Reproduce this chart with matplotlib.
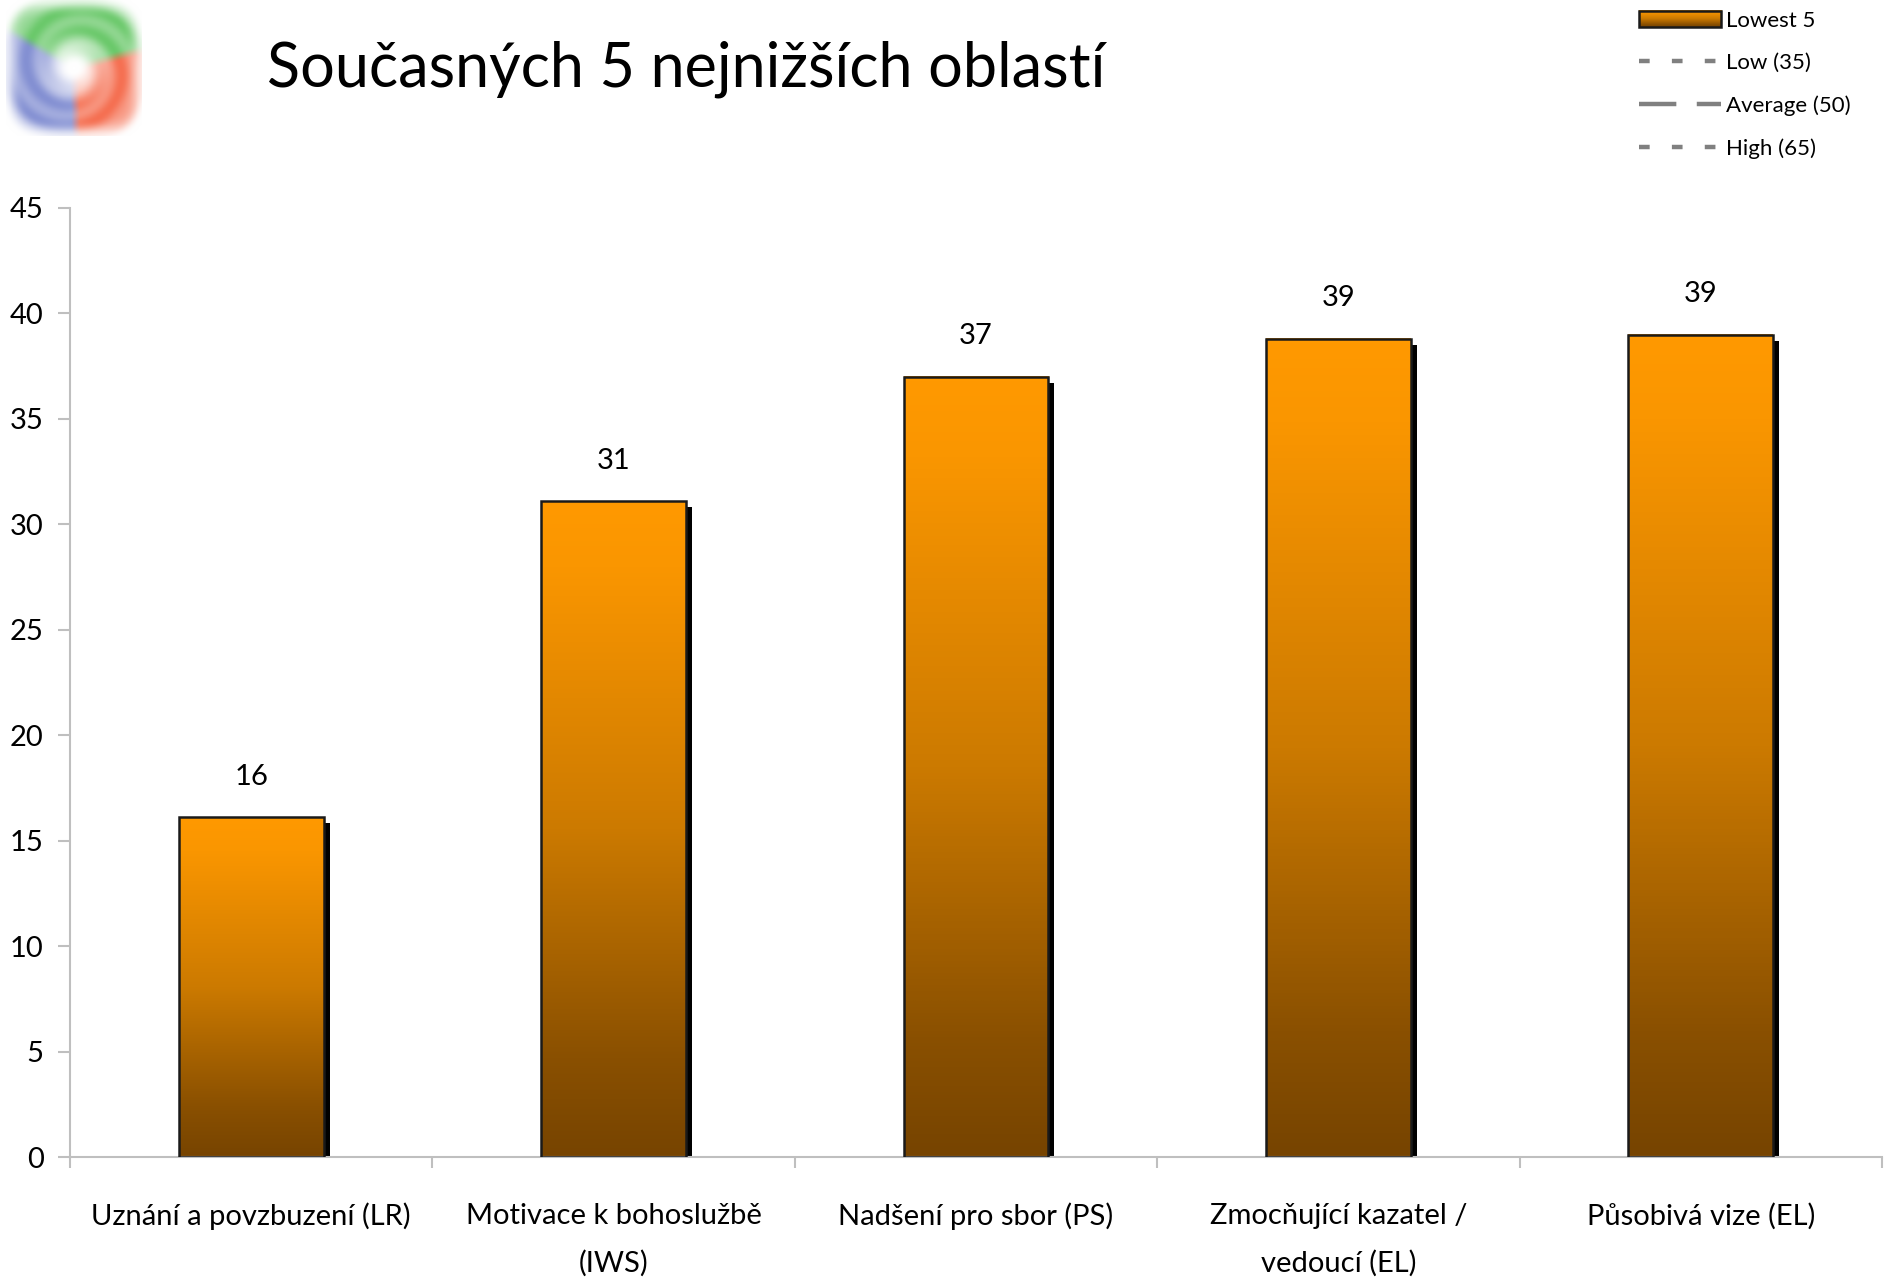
import numpy as np
import matplotlib
matplotlib.use("Agg")
import matplotlib.pyplot as plt
from matplotlib.colors import LinearSegmentedColormap
from matplotlib.patches import Rectangle
from matplotlib.lines import Line2D
from matplotlib.legend_handler import HandlerPatch
from matplotlib.image import BboxImage
from matplotlib.transforms import Bbox, TransformedBbox
import matplotlib.transforms as mtransforms

# --- data -------------------------------------------------------------
categories = [
    "Uznání a povzbuzení (LR)",
    "Motivace k bohoslužbě\n(IWS)",
    "Nadšení pro sbor (PS)",
    "Zmocňující kazatel /\nvedoucí (EL)",
    "Působivá vize (EL)",
]
values = [16.1, 31.1, 37.0, 38.8, 39.0]
y_ticks = [0, 5, 10, 15, 20, 25, 30, 35, 40, 45]
legend_labels = ["Lowest 5", "Low (35)", "Average (50)", "High (65)"]
title_text = "Současných 5 nejnižších oblastí"

# --- style ------------------------------------------------------------
FONT = ["Lato", "DejaVu Sans"]
plt.rcParams["font.family"] = FONT
AXIS_GREY = "#BFBFBF"
bar_cmap = LinearSegmentedColormap.from_list(
    "orange_brown",
    [(0.0, "#774400"), (0.15, "#8A5000"), (0.5, "#CC7A00"),
     (0.9, "#FA9600"), (1.0, "#FF9900")])

W, H, DPI = 1889, 1280, 100
fig = plt.figure(figsize=(W / DPI, H / DPI), dpi=DPI)
ax = fig.add_axes([70 / W, (H - 1157) / H, (1882 - 70) / W, (1157 - 208) / H])

x = np.arange(len(categories))
bar_w = 0.40

# drop shadow behind each bar
shadow_tr = mtransforms.offset_copy(ax.transData, fig=fig, x=6, y=-6, units="dots")
ax.bar(x, values, width=bar_w, color="black", linewidth=0,
       transform=shadow_tr, zorder=1)

# gradient fill for each bar
grad = np.linspace(0, 1, 256).reshape(-1, 1)
for xi, v in zip(x, values):
    ax.imshow(grad, cmap=bar_cmap, origin="lower", aspect="auto",
              extent=(xi - bar_w / 2, xi + bar_w / 2, 0, v),
              interpolation="bilinear", zorder=2)

# outlines on top
bars = ax.bar(x, values, width=bar_w, facecolor="none",
              edgecolor="#1a1a1a", linewidth=1.8, zorder=3)

# value labels
for xi, v in zip(x, values):
    ax.annotate(f"{v:.0f}", xy=(xi, v), xytext=(0, 29), textcoords="offset points",
                ha="center", va="center", fontsize=21, color="black")

# axes
ax.set_xlim(-0.5, len(categories) - 0.5)
ax.set_ylim(0, 45)
ax.set_yticks(y_ticks)
ax.set_yticklabels([str(t) for t in y_ticks])
ax.tick_params(axis="y", length=9, width=1.5, color=AXIS_GREY, pad=10,
               labelsize=21, labelcolor="black")
ax.set_xticks(np.arange(len(categories) + 1) - 0.5)
ax.set_xticklabels([])
ax.tick_params(axis="x", length=8, width=1.5, color=AXIS_GREY, direction="out")
for side in ("top", "right"):
    ax.spines[side].set_visible(False)
for side in ("left", "bottom"):
    ax.spines[side].set_color(AXIS_GREY)
    ax.spines[side].set_linewidth(1.5)

for xi, lab in zip(x, categories):
    ax.annotate(lab, xy=(xi, 0), xycoords=("data", "data"), xytext=(0, -33),
                textcoords="offset points", ha="center", va="top",
                fontsize=21, linespacing=1.95, annotation_clip=False)

# title
fig.text(267 / W, 1 - 69 / H, title_text, fontsize=44, ha="left", va="center")

# legend
class GradientPatchHandler(HandlerPatch):
    def create_artists(self, legend, orig_handle, xdescent, ydescent,
                       width, height, fontsize, trans):
        bb = TransformedBbox(Bbox.from_bounds(-xdescent, -ydescent, width, height), trans)
        im = BboxImage(bb, cmap=bar_cmap, interpolation="bilinear", origin="lower")
        im.set_data(grad)
        r = Rectangle((-xdescent, -ydescent), width, height,
                      facecolor="none", edgecolor="#1a1a1a", linewidth=1.8,
                      transform=trans)
        return [im, r]

legend_handles = [
    Rectangle((0, 0), 1, 1),
    Line2D([], [], color="#808080", lw=3.2, dashes=(2.4, 5.0)),
    Line2D([], [], color="#808080", lw=3.2, dashes=(8.4, 4.6)),
    Line2D([], [], color="#808080", lw=3.2, dashes=(2.4, 5.0)),
]
leg = fig.legend(legend_handles, legend_labels, loc="upper left",
                 bbox_to_anchor=(1630 / W, 1 - 2 / H), frameon=False,
                 fontsize=16, handlelength=3.7, handleheight=0.75,
                 handletextpad=0.2, labelspacing=1.0, borderaxespad=0,
                 handler_map={Rectangle: GradientPatchHandler()})

# logo: soft tri-colour swirl
n = 160
yy, xx = np.mgrid[0:n, 0:n]
cx = cy = (n - 1) / 2
dx = (xx - cx) / cx
dy = (cy - yy) / cy
r = np.hypot(dx, dy)
th = np.degrees(np.arctan2(dy, dx)) % 360
green = np.array([0.40, 0.78, 0.40])
red = np.array([0.96, 0.42, 0.30])
blue = np.array([0.50, 0.55, 0.82])
col = np.zeros((n, n, 3))
m_g = (th >= 15) & (th < 150)
m_b = (th >= 150) & (th < 272)
m_r = ~(m_g | m_b)
col[m_g] = green
col[m_b] = blue
col[m_r] = red
sq = (np.abs(dx) ** 4 + np.abs(dy) ** 4) ** 0.25
inten = np.clip((r - 0.12) / 0.45, 0, 1) * np.clip((1.02 - sq) / 0.2, 0, 1)
# swirl bands
inten = inten * (0.7 + 0.3 * np.cos(np.radians(th * 1.0) + r * 9) ** 2)
img = 1 - inten[..., None] * (1 - col)
# box blur for the soft look
k = 11
kern = np.ones(k) / k
for c in range(3):
    for axis in (0, 1):
        img[..., c] = np.apply_along_axis(
            lambda m: np.convolve(np.pad(m, k // 2, mode="edge"), kern, mode="valid"),
            axis, img[..., c])
logo_ax = fig.add_axes([6 / W, 1 - 136 / H, 136 / W, 136 / H])
logo_ax.imshow(np.clip(img, 0, 1), interpolation="bilinear")
logo_ax.axis("off")

fig.savefig("out.png", dpi=DPI, facecolor="white")
